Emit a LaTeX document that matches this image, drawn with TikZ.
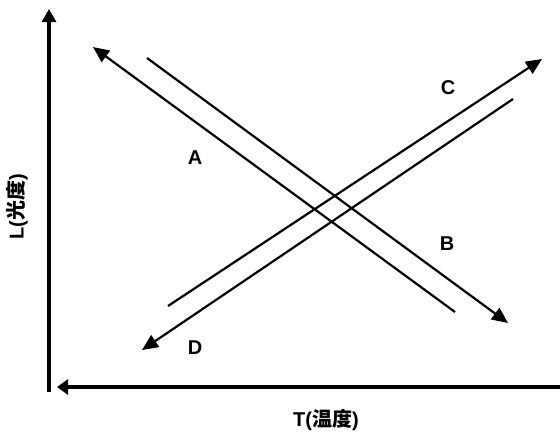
\documentclass[tikz,border=0pt]{standalone}
\usepackage{fontspec}
\setmainfont{Liberation Sans}
\newfontfamily\cjk{Noto Sans CJK SC}
\usetikzlibrary{arrows.meta}

\begin{document}
\begin{tikzpicture}[
  x=1pt, y=-1pt,
  axis/.style={line width=3.2pt, -{Triangle[length=13pt, width=14pt]}},
  ray/.style={line width=2.2pt, -{Triangle[length=16pt, width=14pt]}},
  lbl/.style={font=\fontsize{20}{24}\selectfont\bfseries}
]
\useasboundingbox (0,0) rectangle (560,437);

% axes
\coordinate (origin) at (49,392);
\coordinate (ytip) at (49,9);
\coordinate (xstart) at (560,387);
\coordinate (xtip) at (57,387);
\draw[axis] (origin) -- (ytip);
\draw[axis, -{Triangle[length=11pt, width=15pt]}] (xstart) -- (xtip);

% falling pair
\coordinate (tipA) at (93,47);
\coordinate (tailA) at (455,312);
\coordinate (tailB) at (147,58);
\coordinate (tipB) at (508,323);
\draw[ray] (tailA) -- (tipA);
\draw[ray] (tailB) -- (tipB);

% rising pair
\coordinate (tailC) at (168,306);
\coordinate (tipC) at (542,59);
\coordinate (tailD) at (513,99);
\coordinate (tipD) at (142,350);
\draw[ray] (tailC) -- (tipC);
\draw[ray] (tailD) -- (tipD);

% labels
\node[lbl] (labA) at (195,158) {A};
\node[lbl] (labB) at (447,244) {B};
\node[lbl] (labC) at (448,88) {C};
\node[lbl] (labD) at (195,348) {D};
\node[lbl, rotate=90] (ylab) at (17,207) {L({\cjk 光度})};
\node[lbl] (xlab) at (326,420) {T({\cjk 温度})};
\end{tikzpicture}
\end{document}
